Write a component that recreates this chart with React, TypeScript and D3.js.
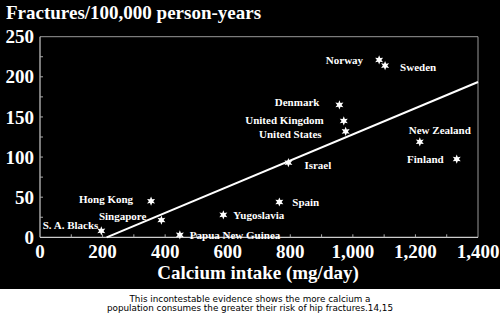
import React from "react";
import * as d3 from "d3";

const countries = ["S. A. Blacks", "Hong Kong", "Singapore", "Papua New Guinea", "Yugoslavia", "Spain", "Israel", "Finland", "New Zealand", "Norway", "Sweden", "Denmark", "United Kingdom", "United States"];
const calcium = [196, 355, 388, 447, 586, 765, 794, 1332, 1214, 1084, 1103, 957, 971, 977];
const fractures = [8, 45, 21.5, 3, 28, 44, 93, 97.5, 119, 221, 214, 165, 145, 132];
// label offsets (pixels) and anchors, styling only
const labelDx = [-3, -18, -15, 10, 10, 13, 16, -13, -11, -16, 15, -20, -20, -24];
const labelDy = [-6, -2, -4, 0, 0, 0, 2, 0, -12, 0, 2, -3, -1, 3];
const labelAnchor = ["end", "end", "end", "start", "start", "start", "start", "end", "start", "end", "start", "end", "end", "end"];

const yTicks = [0, 50, 100, 150, 200, 250];
const xTicks = [0, 200, 400, 600, 800, 1000, 1200, 1400];
const fitLine = [[213, 0], [1400, 193.5]];

const title = "Fractures/100,000 person-years";
const xTitle = "Calcium intake (mg/day)";
const caption = ["This incontestable evidence shows the more calcium a", "population consumes the greater their risk of hip fractures.14,15"];

export default function App() {
  const W = 500, H = 314;
  const x = d3.scaleLinear().domain([0, 1400]).range([40, 478]);
  const y = d3.scaleLinear().domain([0, 250]).range([237.3, 36.7]);
  const serif = "'Liberation Serif', 'Times New Roman', serif";
  const fmt = d3.format(",");
  const minorX = d3.range(100, 1400, 100);
  const minorY = d3.range(25, 250, 25);
  const starPts = d3.range(12).map((i) => [ (i * Math.PI) / 6, i % 2 === 0 ? 4.6 : 2.2 ] as [number, number]);
  const starPath = d3.lineRadial().curve(d3.curveLinearClosed)(starPts) as string;
  const line = d3.line().x((d: any) => x(d[0])).y((d: any) => y(d[1]));
  return (
    <svg width={W} height={H} style={{ position: "absolute", left: 0, top: 0, display: "block" }}>
      <rect x={0} y={0} width={W} height={289} fill="#000" />
      <rect x={0} y={289} width={W} height={H - 289} fill="#fff" />
      <text x={6} y={18.5} fill="#fff" fontFamily={serif} fontWeight="bold" fontSize={19}>{title}</text>
      {/* frame */}
      <line x1={x(0)} x2={x(1400)} y1={y(250)} y2={y(250)} stroke="#999" strokeWidth={1} />
      <line x1={x(1400)} x2={x(1400)} y1={y(250)} y2={y(0)} stroke="#999" strokeWidth={1} />
      <line x1={x(0)} x2={x(0)} y1={y(250)} y2={y(0)} stroke="#ccc" strokeWidth={1.2} />
      <line x1={x(0)} x2={x(1400)} y1={y(0)} y2={y(0)} stroke="#ccc" strokeWidth={1.2} />
      {minorX.map((v) => (
        <line key={"mx" + v} x1={x(v)} x2={x(v)} y1={y(0)} y2={y(0) - 3} stroke="#aaa" />
      ))}
      {minorY.map((v) => (
        <line key={"my" + v} x1={x(0)} x2={x(0) + 3} y1={y(v)} y2={y(v)} stroke="#aaa" />
      ))}
      {yTicks.map((v) => (
        <text key={"yt" + v} x={34} y={y(v)} dy="0.35em" textAnchor="end" fill="#fff" fontFamily={serif} fontWeight="bold" fontSize={19}>{v}</text>
      ))}
      {xTicks.map((v) => (
        <text key={"xt" + v} x={x(v)} y={258} textAnchor="middle" fill="#fff" fontFamily={serif} fontWeight="bold" fontSize={19}>{fmt(v)}</text>
      ))}
      <text x={258} y={279} textAnchor="middle" fill="#fff" fontFamily={serif} fontWeight="bold" fontSize={19}>{xTitle}</text>
      <path d={line(fitLine as any) as string} stroke="#fff" strokeWidth={2} fill="none" />
      {countries.map((c, i) => (
        <g key={c}>
          <path d={starPath} transform={`translate(${x(calcium[i])},${y(fractures[i])})`} fill="#fff" />
          <text x={x(calcium[i]) + labelDx[i]} y={y(fractures[i]) + labelDy[i]} dy="0.35em" textAnchor={labelAnchor[i] as any} fill="#fff" fontFamily={serif} fontWeight="bold" fontSize={11}>{c}</text>
        </g>
      ))}
      {caption.map((t, i) => (
        <text key={i} x={250} y={301.5 + i * 9.5} textAnchor="middle" fill="#000" fontFamily="'DejaVu Sans', Verdana, sans-serif" fontSize={8.8}>{t}</text>
      ))}
    </svg>
  );
}
